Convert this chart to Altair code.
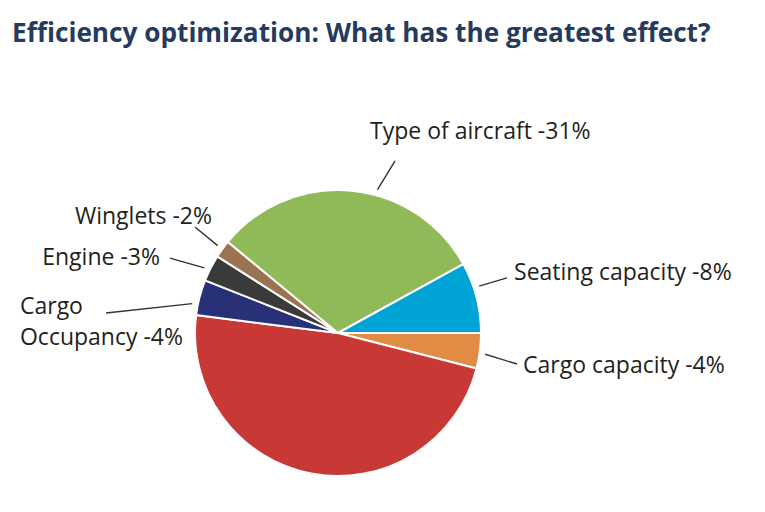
import math
import altair as alt
import pandas as pd

# ---- data (clockwise from 3 o'clock) ----
categories = ["Cargo capacity", "Other", "Cargo Occupancy", "Engine",
              "Winglets", "Type of aircraft", "Seating capacity"]
values = [4, 48, 4, 3, 2, 31, 8]
label_texts = ["Cargo capacity -4%", "", "Cargo\nOccupancy -4%", "Engine -3%",
               "Winglets -2%", "Type of aircraft -31%", "Seating capacity -8%"]
colors = ["#e08c45", "#c83834", "#283178", "#3a3a3a",
          "#9a7452", "#8fba57", "#00a3d6"]
TITLE = "Efficiency optimization: What has the greatest effect?"

# ---- layout (pixels / units of pie radius) ----
W, H = 765, 512
CX, CY, R = 338, 333, 143
# per label: angle nudge (deg), leader outer end, text anchor, alignment
label_layout = {
    "Cargo capacity":   dict(nudge=-1,  outer=(1.252, -0.217), text=(1.294, -0.231), align="left"),
    "Cargo Occupancy":  dict(nudge=3,   outer=(-1.622, 0.140), text=(-2.224, 0.182), align="left"),
    "Engine":           dict(nudge=1,   outer=(-1.175, 0.524), text=(-1.245, 0.524), align="right"),
    "Winglets":         dict(nudge=0,   outer=(-1.000, 0.741), text=(-0.881, 0.811), align="right"),
    "Type of aircraft": dict(nudge=-10, outer=(0.399, 1.203),  text=(0.224, 1.406),  align="left"),
    "Seating capacity": dict(nudge=4,   outer=(1.182, 0.385),  text=(1.231, 0.420),  align="left"),
}

pie_df = pd.DataFrame({"category": categories, "value": values,
                       "idx": list(range(len(categories)))})

total = sum(values)
rows = []
cum = 0
for cat, v, txt in zip(categories, values, label_texts):
    mid = -(cum + v / 2) / total * 360.0  # math angle, ccw from east
    cum += v
    if cat not in label_layout:
        continue
    lay = label_layout[cat]
    a = math.radians(mid + lay["nudge"])
    rows.append(dict(category=cat, label=txt,
                     x=1.04 * math.cos(a), y=1.04 * math.sin(a),
                     x2=lay["outer"][0], y2=lay["outer"][1],
                     tx=lay["text"][0], ty=lay["text"][1], align=lay["align"]))
ann_df = pd.DataFrame(rows)

xscale = alt.Scale(domain=[-CX / R, (W - CX) / R], nice=False, zero=False)
yscale = alt.Scale(domain=[-(H - CY) / R, CY / R], nice=False, zero=False)

pie = alt.Chart(pie_df).mark_arc(
    outerRadius=R, x=CX, y=CY, stroke="white", strokeWidth=2
).encode(
    theta=alt.Theta("value:Q", stack=True,
                    scale=alt.Scale(range=[math.pi / 2, math.pi / 2 + 2 * math.pi])),
    order=alt.Order("idx:Q"),
    color=alt.Color("category:N", scale=alt.Scale(domain=categories, range=colors),
                    legend=None),
)

leaders = alt.Chart(ann_df).mark_rule(color="#333333", strokeWidth=1.4).encode(
    x=alt.X("x:Q", scale=xscale, axis=None),
    y=alt.Y("y:Q", scale=yscale, axis=None),
    x2="x2:Q", y2="y2:Q",
)

def text_layer(align):
    return alt.Chart(ann_df).transform_filter(
        alt.datum.align == align
    ).mark_text(
        align=align, baseline="middle", font="Open Sans", fontSize=23,
        color="#231f20", lineBreak="\n", lineHeight=31
    ).encode(
        x=alt.X("tx:Q", scale=xscale, axis=None),
        y=alt.Y("ty:Q", scale=yscale, axis=None),
        text="label:N",
    )

title = alt.Chart(pd.DataFrame({"t": [TITLE]})).mark_text(
    align="left", baseline="alphabetic", font="Open Sans",
    fontWeight="bold", fontSize=26.2, color="#243a5e"
).encode(x=alt.value(12), y=alt.value(42), text="t:N")

chart = alt.layer(pie, leaders, text_layer("left"), text_layer("right"), title).properties(
    width=W, height=H, autosize=alt.AutoSizeParams(type="none"), padding=0
).configure_view(stroke=None)

chart.save("out.html", embed_options={"renderer": "svg", "actions": False})
